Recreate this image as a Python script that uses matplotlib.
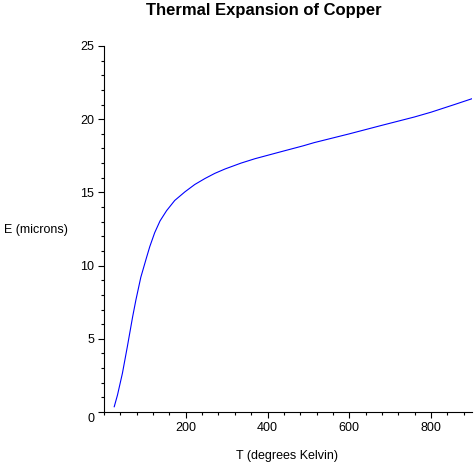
import numpy as np
import matplotlib
matplotlib.use('Agg')
import matplotlib.pyplot as plt
import matplotlib.transforms as mtransforms
from matplotlib.ticker import MultipleLocator

# temperature (K) and expansion (microns)
temp_K = [25, 33, 45, 57, 70, 78, 90, 104, 112, 124, 137, 153, 173, 198, 222,
          247, 271, 296, 335, 369, 433, 487, 514, 600, 678, 759, 800, 857, 900]
expansion = [0.36, 1.16, 2.64, 4.45, 6.5, 7.65, 9.2, 10.55, 11.3, 12.25, 13.05,
             13.75, 14.45, 15.04, 15.54, 15.95, 16.3, 16.6, 17.0, 17.3, 17.78,
             18.18, 18.4, 19.0, 19.57, 20.15, 20.48, 21.0, 21.4]

plt.rcParams['font.family'] = ['Liberation Sans', 'DejaVu Sans']

fig = plt.figure(figsize=(4.74, 4.74), dpi=100)
ax = fig.add_axes([104/474, 1-412/474, 368/474, 366/474])

ax.plot(temp_K, expansion, color='#0000ff', linewidth=0.8)

ax.set_xlim(0, 900)
ax.set_ylim(0, 25)
ax.set_xticks([200, 400, 600, 800])
ax.xaxis.set_minor_locator(MultipleLocator(40))
ax.set_yticks([0, 5, 10, 15, 20, 25])
ax.yaxis.set_minor_locator(MultipleLocator(1))

for s in ['top', 'right']:
    ax.spines[s].set_visible(False)
for s in ['left', 'bottom']:
    ax.spines[s].set_linewidth(0.8)

ax.tick_params(which='major', length=4, width=0.8, labelsize=9, pad=3)
ax.tick_params(which='minor', length=2, width=0.8)

# the "0" on the y axis sits a little lower in the original
lab0 = ax.yaxis.get_major_ticks()[0].label1
lab0.set_transform(lab0.get_transform() +
                   mtransforms.ScaledTranslation(0, -6/100, fig.dpi_scale_trans))

fig.text(287/474, 1-456/474, 'T (degrees Kelvin)', ha='center', va='center', fontsize=9)
fig.text(4/474, 1-230/474, 'E (microns)', ha='left', va='center', fontsize=9)
fig.text(264/474, 1-11/474, 'Thermal Expansion of Copper', ha='center', va='center',
         fontsize=12, fontweight='bold')

plt.savefig('out.png', dpi=100)
